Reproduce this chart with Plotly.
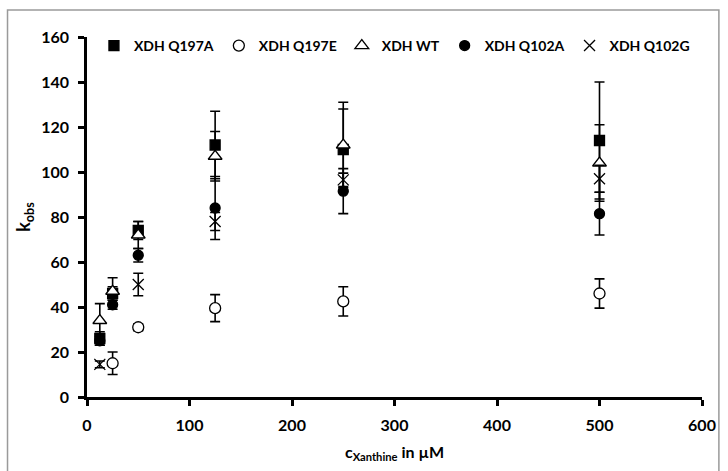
import plotly.graph_objects as go

# ---- data ----
x_all = [12.5, 25, 50, 125, 250, 500]

q197a_y = [26, 46, 74, 112, 110, 114]
q197a_err = [3, 3, 4, 15, 18, 26]

q197e_x = [25, 50, 125, 250, 500]
q197e_y = [15, 31, 39.5, 42.5, 46]
q197e_err = [5, 1.5, 6, 6.5, 6.5]

wt_y = [34, 47, 72, 107, 112, 104]
wt_err = [7.5, 6, 6, 11, 19, 17]

q102a_y = [25, 41, 63, 84, 91.5, 81.5]
q102a_err = [2, 2, 3, 14, 10, 9.5]

q102g_x = [12.5, 50, 125, 250, 500]
q102g_y = [14.5, 50, 78, 96.5, 97]
q102g_err = [1.5, 5, 4, 3, 6]

x_ticks = [0, 100, 200, 300, 400, 500, 600]
y_ticks = [0, 20, 40, 60, 80, 100, 120, 140, 160]

FONT = "Lato, 'Open Sans', Arial, sans-serif"

fig = go.Figure()

def add(name, x, y, err, symbol, fill, size=10):
    fig.add_trace(go.Scatter(
        x=x, y=y, mode="markers", name=name,
        marker=dict(symbol=symbol, size=size, color=fill,
                    line=dict(color="black", width=1.3)),
        error_y=dict(type="data", array=err, visible=True,
                     color="black", thickness=1.6, width=5),
    ))

add("XDH Q197A", x_all, q197a_y, q197a_err, "square", "black", 10)
add("XDH Q197E", q197e_x, q197e_y, q197e_err, "circle", "white", 11)
add("XDH WT", x_all, wt_y, wt_err, "triangle-up", "white", 12)
add("XDH Q102A", x_all, q102a_y, q102a_err, "circle", "black", 10)
add("XDH Q102G", q102g_x, q102g_y, q102g_err, "x-thin-open", "black", 11)

L, R, T, B = 87, 22, 37, 73
W, H = 728, 471
pw, ph = W - L - R, H - T - B

def px2paperx(p):
    return (p - L) / pw

def py2papery(p):
    return 1 - (p - T) / ph

fig.update_layout(
    width=W, height=H,
    margin=dict(l=L, r=R, t=T, b=B),
    paper_bgcolor="white", plot_bgcolor="white",
    font=dict(family=FONT, size=14, color="black"),
    showlegend=True,
    legend=dict(
        orientation="h", x=px2paperx(94), xanchor="left",
        y=py2papery(46), yanchor="middle",
        font=dict(family=FONT, size=14, color="black", weight="bold"),
        itemwidth=30, tracegroupgap=0, bgcolor="rgba(0,0,0,0)",
    ),
    xaxis=dict(
        range=[0, 600], tickvals=x_ticks, ticktext=[str(v) for v in x_ticks],
        showgrid=False, zeroline=False, showline=True, linecolor="black",
        linewidth=2.5, ticks="outside", ticklen=6, tickwidth=2.5,
        tickcolor="black", ticklabelstandoff=6,
        tickfont=dict(family=FONT, size=16, weight="bold"),
        title=dict(text="c<sub>Xanthine</sub> in µM",
                   font=dict(family=FONT, size=16, weight="bold"),
                   standoff=14),
    ),
    yaxis=dict(
        range=[0, 160], tickvals=y_ticks, ticktext=[str(v) for v in y_ticks],
        showgrid=False, zeroline=False, showline=True, linecolor="black",
        linewidth=2.5, ticks="outside", ticklen=6, tickwidth=2.5,
        tickcolor="black", ticklabelstandoff=6,
        tickfont=dict(family=FONT, size=16, weight="bold"),
        title=dict(text="k<sub>obs</sub>",
                   font=dict(family=FONT, size=18, weight="bold"),
                   standoff=6),
    ),
    shapes=[dict(
        type="rect", xref="paper", yref="paper",
        x0=px2paperx(7), x1=px2paperx(723),
        y0=py2papery(480), y1=py2papery(10),
        line=dict(color="#9a9a9a", width=1.5), fillcolor="rgba(0,0,0,0)",
        layer="below",
    )],
)

fig.write_html("out.html")
